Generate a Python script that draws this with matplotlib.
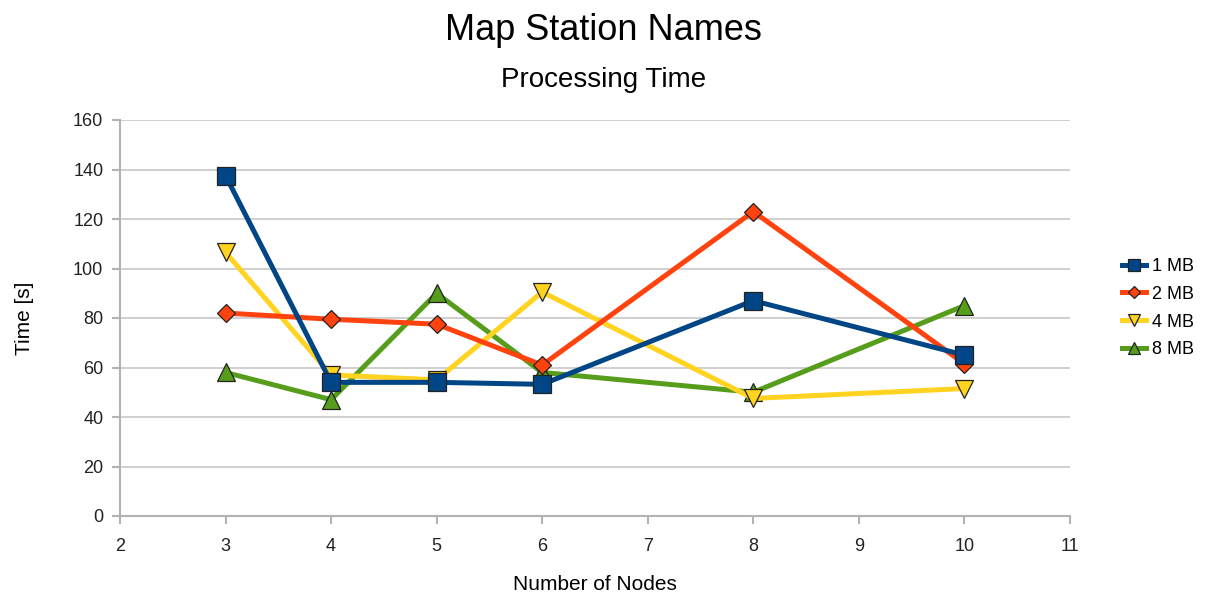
import numpy as np
import matplotlib.pyplot as plt

plt.rcParams['font.family'] = ['Liberation Sans', 'DejaVu Sans']

# Processing time [s] per number of nodes and block size
nodes = [3, 4, 5, 6, 8, 10]
time_1mb = [137.5, 54, 54, 53.2, 87, 65]
time_2mb = [82, 79.5, 77.5, 61, 123, 61.5]
time_4mb = [106.5, 57, 55, 90.5, 47.5, 51.5]
time_8mb = [58, 47, 90, 58, 50, 85]

series = [
    ("1 MB", time_1mb, "#004586", "s", 13),
    ("2 MB", time_2mb, "#ff420e", "D", 9),
    ("4 MB", time_4mb, "#ffd320", "v", 13),
    ("8 MB", time_8mb, "#579d1c", "^", 13),
]

fig = plt.figure(figsize=(12.07, 5.97), dpi=100)
ax = fig.add_axes([120 / 1207, 1 - 516 / 597, 950 / 1207, 396 / 597])

# first series ends up on top
n = len(series)
for i, (label, vals, color, marker, ms) in enumerate(series):
    ax.plot(nodes, vals, color=color, lw=3.6, marker=marker, markersize=ms,
            markerfacecolor=color, markeredgecolor="#222222", markeredgewidth=0.9,
            label=label, zorder=10 + n - i)

ax.set_xlim(2, 11)
ax.set_ylim(0, 160)
ax.set_xticks(range(2, 12))
ax.set_yticks(range(0, 161, 20))
ax.yaxis.grid(True, color="#cccccc", lw=1.3)
ax.set_axisbelow(True)
for side in ["top", "right"]:
    ax.spines[side].set_visible(False)
for side in ["left", "bottom"]:
    ax.spines[side].set_color("#b3b3b3")
    ax.spines[side].set_linewidth(1.5)
ax.tick_params(axis="both", color="#b3b3b3", width=1.5, length=6, labelsize=13,
               labelcolor="#222222")
ax.tick_params(axis="x", pad=10)
ax.tick_params(axis="y", pad=6)

ax.set_xlabel("Number of Nodes", fontsize=15, labelpad=14)
ax.set_ylabel("Time [s]", fontsize=15, labelpad=28)

fig.text(0.5, 1 - 31 / 597, "Map Station Names", ha="center", va="center", fontsize=26)
fig.text(0.5, 1 - 80 / 597, "Processing Time", ha="center", va="center", fontsize=20)

ax.legend(loc="center left", bbox_to_anchor=(1.038, 0.525), frameon=False,
          fontsize=13, handlelength=1.3, handletextpad=0.35, labelspacing=0.6,
          markerscale=0.7)

fig.savefig("out.png", dpi=100)
